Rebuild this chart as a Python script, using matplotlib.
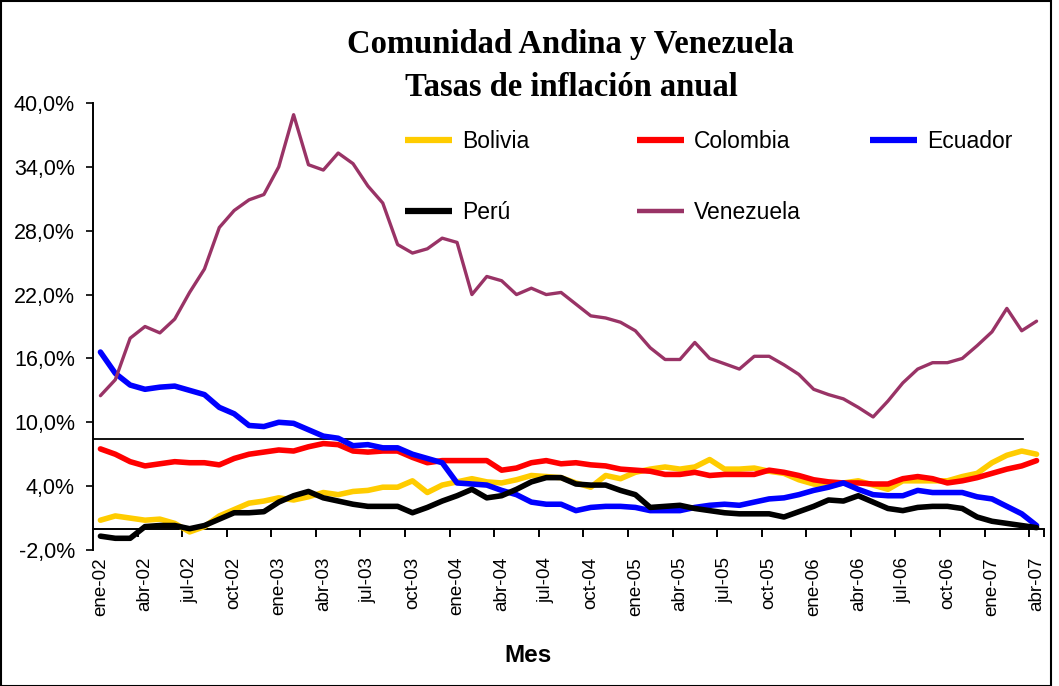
import matplotlib
matplotlib.use("Agg")
import matplotlib.pyplot as plt
from matplotlib.patches import Rectangle
from matplotlib.ticker import FuncFormatter

months = ["ene", "feb", "mar", "abr", "may", "jun", "jul", "ago", "sep", "oct", "nov", "dic"]
categories = [f"{months[m]}-{y:02d}" for y in range(2, 8) for m in range(12)][:64]

bolivia = [0.8, 1.2, 1.0, 0.8, 0.9, 0.5, -0.3, 0.2, 1.2, 1.8, 2.4, 2.6, 2.9, 2.7, 3.0, 3.4,
           3.2, 3.5, 3.6, 3.9, 3.9, 4.5, 3.4, 4.1, 4.4, 4.7, 4.4, 4.3, 4.6, 5.0, 4.9, 4.8,
           4.3, 3.9, 5.0, 4.7, 5.3, 5.6, 5.8, 5.6, 5.8, 6.5, 5.6, 5.6, 5.7, 5.4, 5.2, 4.6,
           4.2, 4.0, 4.3, 4.5, 4.1, 3.7, 4.5, 4.5, 4.5, 4.5, 4.9, 5.2, 6.2, 6.9, 7.3, 7.0]
colombia = [7.5, 7.0, 6.3, 5.9, 6.1, 6.3, 6.2, 6.2, 6.0, 6.6, 7.0, 7.2, 7.4, 7.3, 7.7, 8.0,
            7.9, 7.3, 7.2, 7.3, 7.3, 6.7, 6.2, 6.4, 6.4, 6.4, 6.4, 5.5, 5.7, 6.2, 6.4, 6.1,
            6.2, 6.0, 5.9, 5.6, 5.5, 5.4, 5.1, 5.1, 5.3, 5.0, 5.1, 5.1, 5.1, 5.5, 5.3, 5.0,
            4.6, 4.4, 4.3, 4.3, 4.2, 4.2, 4.7, 4.9, 4.7, 4.3, 4.5, 4.8, 5.2, 5.6, 5.9, 6.4]
ecuador = [16.6, 14.6, 13.5, 13.1, 13.3, 13.4, 13.0, 12.6, 11.4, 10.8, 9.7, 9.6, 10.0, 9.9, 9.3, 8.7,
           8.5, 7.8, 7.9, 7.6, 7.6, 7.0, 6.6, 6.2, 4.3, 4.2, 4.1, 3.6, 3.2, 2.5, 2.3, 2.3,
           1.7, 2.0, 2.1, 2.1, 2.0, 1.7, 1.7, 1.7, 2.0, 2.2, 2.3, 2.2, 2.5, 2.8, 2.9, 3.2,
           3.6, 3.9, 4.3, 3.7, 3.2, 3.1, 3.1, 3.6, 3.4, 3.4, 3.4, 3.0, 2.8, 2.1, 1.4, 0.3]
peru = [-0.7, -0.9, -0.9, 0.2, 0.3, 0.3, 0.0, 0.3, 0.9, 1.5, 1.5, 1.6, 2.5, 3.1, 3.5, 2.9,
        2.6, 2.3, 2.1, 2.1, 2.1, 1.5, 2.0, 2.6, 3.1, 3.7, 2.9, 3.1, 3.7, 4.4, 4.8, 4.8,
        4.2, 4.1, 4.1, 3.6, 3.2, 2.0, 2.1, 2.2, 1.9, 1.7, 1.5, 1.4, 1.4, 1.4, 1.1, 1.6,
        2.1, 2.7, 2.6, 3.1, 2.5, 1.9, 1.7, 2.0, 2.1, 2.1, 1.9, 1.1, 0.7, 0.5, 0.3, 0.1]
venezuela = [12.5, 14.0, 17.9, 19.0, 18.4, 19.7, 22.2, 24.4, 28.3, 29.9, 30.9, 31.4, 34.0, 38.9, 34.2, 33.7,
             35.3, 34.3, 32.2, 30.6, 26.7, 25.9, 26.3, 27.3, 26.9, 22.0, 23.7, 23.3, 22.0, 22.6, 22.0, 22.2,
             21.1, 20.0, 19.8, 19.4, 18.6, 17.0, 15.9, 15.9, 17.5, 16.0, 15.5, 15.0, 16.2, 16.2, 15.4, 14.5,
             13.1, 12.6, 12.2, 11.4, 10.5, 12.0, 13.7, 15.0, 15.6, 15.6, 16.0, 17.2, 18.5, 20.7, 18.6, 19.5]
reference_level = 8.4
yticks = [-2, 4, 10, 16, 22, 28, 34, 40]

W, H = 1059, 686
fig = plt.figure(figsize=(W / 100, H / 100), dpi=100)
fig.patches.append(Rectangle((0.001, 0.0), 0.9915, 0.998, transform=fig.transFigure,
                             fill=False, edgecolor="black", linewidth=1.5))

ax = fig.add_axes([93 / W, 1 - 550 / H, (1044 - 93) / W, (550 - 103) / H])
x = list(range(len(categories)))

series = [("Bolivia", bolivia, "#FFCC00", 4.0),
          ("Colombia", colombia, "#FF0000", 4.0),
          ("Ecuador", ecuador, "#0000FF", 4.0),
          ("Perú", peru, "#000000", 4.0),
          ("Venezuela", venezuela, "#993366", 2.4)]
handles = {}
for name, vals, col, lw in series:
    ln, = ax.plot(x, vals, color=col, linewidth=lw, solid_joinstyle="round",
                  solid_capstyle="round", label=name, zorder=3)
    handles[name] = ln

ax.set_xlim(-0.5, len(categories) - 0.5)
ax.set_ylim(-2, 40)

# reference horizontal line
ax.axhline(reference_level, xmin=0, xmax=0.978, color="black", linewidth=1.3, zorder=2)

# y axis
ax.set_yticks(yticks)
ax.yaxis.set_major_formatter(FuncFormatter(lambda v, p: f"{v:.1f}%".replace(".", ",")))
ax.tick_params(axis="y", direction="out", length=5, width=1.2, labelsize=15.5, pad=8)
for lab in ax.get_yticklabels():
    lab.set_fontfamily("Liberation Sans")
ax.spines["left"].set_linewidth(1.4)
for s in ["top", "right", "bottom"]:
    ax.spines[s].set_visible(False)

# x labels at bottom (category centres), no tick marks
lab_idx = list(range(0, len(categories), 3))
ax.set_xticks(lab_idx)
ax.set_xticklabels([categories[i] for i in lab_idx], rotation=90, fontsize=13.5,
                   fontfamily="Liberation Sans")
ax.tick_params(axis="x", length=0, pad=5)

# category axis crossing at 0 with tick marks between categories
sec = ax.secondary_xaxis(2 / 42)
sec.set_xticks([i - 0.5 for i in lab_idx[1:]] + [len(categories) - 0.5])
sec.tick_params(axis="x", direction="out", length=6, width=1.4, labelbottom=False, labeltop=False)
sec.spines["bottom"].set_linewidth(1.4)

fig.text(528 / W, 1 - 656 / H, "Mes", ha="center", va="center", fontsize=17.5,
         fontweight="bold", fontfamily="Liberation Sans")

fig.text(570 / W, 1 - 45 / H, "Comunidad Andina y Venezuela", ha="center", va="center",
         fontsize=23.5, fontweight="bold", fontfamily="Liberation Serif")
fig.text(571 / W, 1 - 87 / H, "Tasas de inflación anual", ha="center", va="center",
         fontsize=23.5, fontweight="bold", fontfamily="Liberation Serif")

columns = [(["Bolivia", "Perú"], 405), (["Colombia", "Venezuela"], 637), (["Ecuador"], 870)]
for names, xpx in columns:
    leg = fig.legend([handles[n] for n in names], names, loc="upper left",
                     bbox_to_anchor=(xpx / W, 1 - 130 / H), bbox_transform=fig.transFigure,
                     frameon=False, handlelength=2.05, handletextpad=0.45,
                     labelspacing=2.1, borderpad=0, borderaxespad=0,
                     prop={"family": "Liberation Sans", "size": 16.5})
    for lh, n in zip(leg.get_lines(), names):
        lh.set_linewidth(3.2 if n == "Venezuela" else 4.5)
        lh.set_solid_capstyle("butt")

fig.savefig("out.png", dpi=100)
